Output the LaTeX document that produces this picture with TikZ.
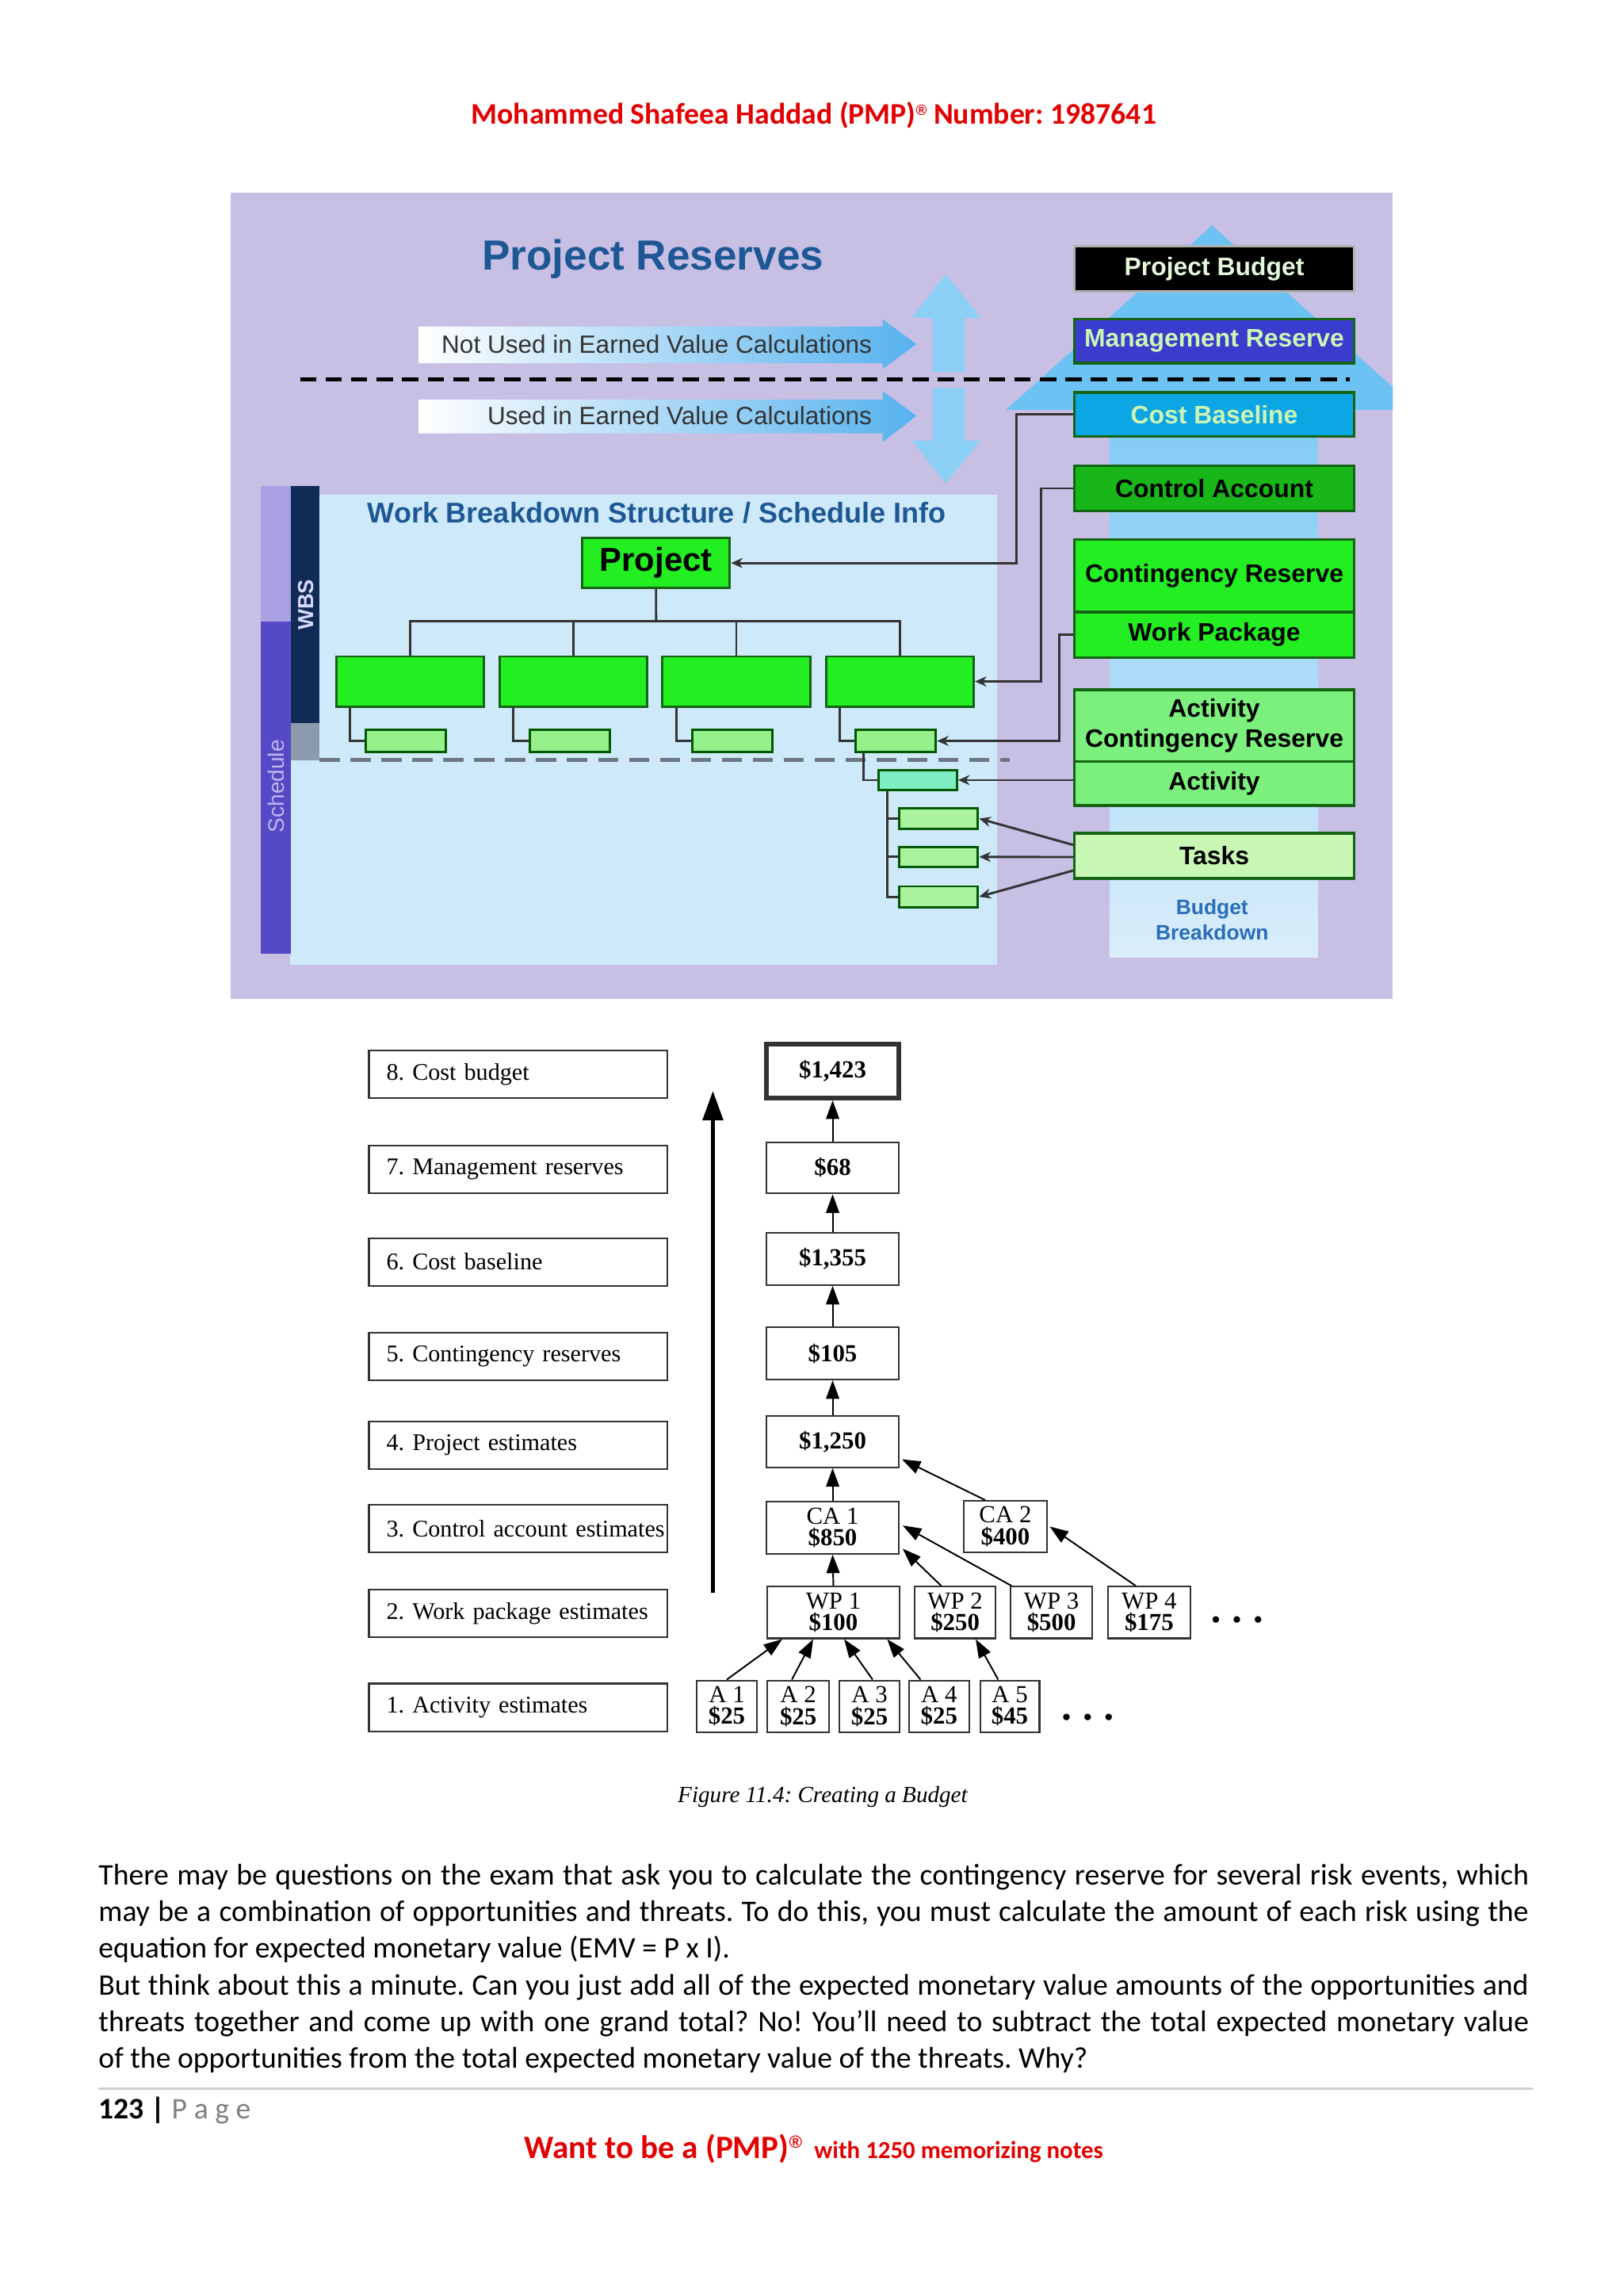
\documentclass[tikz,border=0pt]{standalone}
\usepackage{fontspec}
\setmainfont{Carlito}
\newfontfamily\arialf{Liberation Sans}
\newfontfamily\timesf{Liberation Serif}
\usetikzlibrary{arrows.meta,calc}
\frenchspacing
\def\un{0.18936mm}
\def\tw{185.0mm}
\newcommand\mybox[7][]{\node[#1,minimum width={(#5-#3)*\un},minimum height={(#6-#4)*\un},inner sep=0pt] (#2) at ({(#3+#5)/2},{(#4+#6)/2}) {#7};}
\newcommand\regmark[2]{\raisebox{#2}{\arialf\fontsize{#1}{#1}\selectfont ®}}
\definecolor{bgpurple}{RGB}{200,191,229}
\definecolor{panelblue}{RGB}{206,233,250}
\definecolor{triblue}{RGB}{108,194,242}
\definecolor{varrow}{RGB}{140,208,245}
\definecolor{colblue1}{RGB}{128,202,244}
\definecolor{colblue2}{RGB}{218,237,250}
\definecolor{arrowblue}{RGB}{86,178,238}
\definecolor{arrowmid}{RGB}{222,239,251}
\definecolor{titleblue}{RGB}{30,88,148}
\definecolor{mrblue}{RGB}{58,60,205}
\definecolor{cbblue}{RGB}{12,166,228}
\definecolor{cagreen}{RGB}{24,182,24}
\definecolor{brgreen}{RGB}{34,238,34}
\definecolor{lgreen}{RGB}{124,240,124}
\definecolor{pgreen}{RGB}{200,247,180}
\definecolor{boxedge}{RGB}{20,100,20}
\definecolor{ltext}{RGB}{205,245,180}
\definecolor{pbtext}{RGB}{228,248,220}
\definecolor{wbsnavy}{RGB}{16,44,86}
\definecolor{schedpurple}{RGB}{86,74,196}
\definecolor{lavbar}{RGB}{168,160,226}
\definecolor{schedtext}{RGB}{190,182,240}
\definecolor{graybar}{RGB}{140,154,174}
\definecolor{smallgreen}{RGB}{150,240,140}
\definecolor{actcyan}{RGB}{128,238,196}
\definecolor{taskgreen}{RGB}{170,242,160}
\definecolor{hdrred}{RGB}{226,0,0}
\definecolor{bbblue}{RGB}{40,110,185}
\definecolor{dashgray}{RGB}{110,120,132}
\definecolor{rulegray}{RGB}{208,208,214}
\definecolor{pggray}{RGB}{127,127,127}
\tikzset{
  rc/.style={draw=boxedge, line width=0.35mm, font=\arialf\bfseries\fontsize{9.3}{11}\selectfont},
  gbox/.style={draw=boxedge, line width=0.3mm, fill=brgreen},
  sbox/.style={draw=green!35!black, line width=0.3mm, fill=smallgreen},
  wire/.style={draw=black!80, line width=0.3mm},
  warrow/.style={wire, -{Stealth[length=1.5mm,width=1.3mm]}},
  lab/.style={draw=black!80, line width=0.22mm, fill=white, minimum height={32.5*\un}, inner xsep={12*\un}, inner ysep=0pt, text width={180*\un}, align=left, font=\timesf\fontsize{8.8}{10}\selectfont},
  vbox/.style={draw=black!80, line width=0.22mm, fill=white, inner sep=0pt, align=center, font=\timesf\fontsize{9}{8}\selectfont},
  barrow/.style={line width=0.2mm, -{Triangle[length=2.4mm,width=1.7mm]}},
  body/.style={font=\fontsize{11}{13.5}\selectfont, inner sep=0pt, anchor=base west},
  dotsn/.style={font=\timesf\fontsize{10}{10}\selectfont, inner sep=0pt}
}
\begin{document}
\begin{tikzpicture}[x=0.18936mm,y=-0.18936mm]
\fill[white] (0,0) rectangle (1109,1568);
\useasboundingbox (0,0) rectangle (1109,1568);

% header
\node[font=\bfseries\fontsize{11}{13}\selectfont, text=hdrred, anchor=base, inner sep=0pt] (hdr) at (556,84.9) {Mohammed Shafeea Haddad (PMP)\regmark{5.5}{3.4pt} Number: 1987641};

% ===== top figure =====
\fill[bgpurple] (157.5,131.5) rectangle (951.5,682);
\begin{scope}
\clip (157.5,131.5) rectangle (951.5,682);
\fill[triblue] (828,154) -- (969,280) -- (687,280) -- cycle;
\end{scope}
\shade[top color=colblue1, bottom color=colblue2] (758,280) rectangle (900,654);
\fill[panelblue] (198,338) rectangle (681,659);

\node[font=\arialf\bfseries\fontsize{15.5}{18}\selectfont, text=titleblue] (title) at (446,177) {Project Reserves};

% horizontal block arrows
\shade[left color=white, middle color=arrowmid, right color=arrowblue] (286,223) -- (603,223) -- (603,218) -- (626,235) -- (603,252) -- (603,248) -- (286,248) -- cycle;
\shade[left color=white, middle color=arrowmid, right color=arrowblue] (286,273) -- (603,273) -- (603,267) -- (626,284) -- (603,302) -- (603,296) -- (286,296) -- cycle;
\node[font=\arialf\fontsize{9.2}{11}\selectfont, text=black!80, anchor=east, inner sep=0pt] (nu) at (596,235) {Not Used in Earned Value Calculations};
\node[font=\arialf\fontsize{9.2}{11}\selectfont, text=black!80, anchor=east, inner sep=0pt] (us) at (596,284) {Used in Earned Value Calculations};

% vertical arrows
\fill[varrow] (646,187) -- (670,217) -- (659,217) -- (659,254) -- (637,254) -- (637,217) -- (623,217) -- cycle;
\fill[varrow] (637,265) -- (659,265) -- (659,301) -- (670,301) -- (646,330) -- (623,301) -- (637,301) -- cycle;

% dashed separator
\coordinate (ds1) at (205,259);
\coordinate (ds2) at (922,259);
\draw[line width=0.45mm, dash pattern=on 2.1mm off 1.2mm] (ds1) -- (ds2);

% right column
\mybox[rc, fill=black, text=pbtext, draw=white!70!black]{pb}{734}{168}{925}{199}{Project Budget}
\mybox[rc, fill=mrblue, text=ltext]{mr}{734}{218}{925}{248}{Management Reserve}
\mybox[rc, fill=cbblue, text=ltext]{cb}{734}{268}{925}{298}{Cost Baseline}
\mybox[rc, fill=cagreen]{ca}{734}{318}{925}{349}{Control Account}
\mybox[rc, fill=brgreen]{cr}{734}{368.5}{925}{418}{Contingency Reserve}
\mybox[rc, fill=brgreen]{wp}{734}{418}{925}{449}{Work Package}
\mybox[rc, fill=lgreen, align=center]{acr}{734}{471}{925}{520}{Activity\\Contingency Reserve}
\mybox[rc, fill=lgreen]{act}{734}{520}{925}{550}{Activity}
\mybox[rc, fill=pgreen]{tasks}{734}{569}{925}{600}{Tasks}
\node[font=\arialf\bfseries\fontsize{7.7}{9.2}\selectfont, text=bbblue, align=center] (bb) at (828,628) {Budget\\Breakdown};

% left bars
\fill[lavbar] (178.4,332) rectangle (198.9,424.4);
\fill[schedpurple] (178.4,424.4) rectangle (198.9,651.5);
\fill[wbsnavy] (198.9,332) rectangle (218.4,494);
\fill[graybar] (198.9,494) rectangle (218.4,519);
\node[rotate=90, font=\arialf\bfseries\fontsize{8}{9}\selectfont, text=white!85!blue] (wbslbl) at (209,413) {WBS};
\node[rotate=90, font=\arialf\fontsize{8.2}{9}\selectfont, text=schedtext] (schlbl) at (188.6,537) {Schedule};

\node[font=\arialf\bfseries\fontsize{10.5}{12}\selectfont, text=titleblue] (wbst) at (448.5,350) {Work Breakdown Structure / Schedule Info};

% WBS tree
\mybox[gbox, font=\arialf\bfseries\fontsize{12.2}{14}\selectfont]{proj}{397.7}{367.4}{498.6}{401.6}{Project}
\mybox[gbox]{g1}{229.6}{448.3}{330.6}{482.5}{}
\mybox[gbox]{g2}{341.3}{448.3}{442.3}{482.5}{}
\mybox[gbox]{g3}{452.5}{448.3}{553.5}{482.5}{}
\mybox[gbox]{g4}{564.2}{448.3}{665.2}{482.5}{}
\mybox[sbox]{s1}{250}{498.6}{304.6}{513.4}{}
\mybox[sbox]{s2}{361.8}{498.6}{416.4}{513.4}{}
\mybox[sbox]{s3}{473}{498.6}{527.6}{513.4}{}
\mybox[sbox]{s4}{584.7}{498.6}{639.3}{513.4}{}
\coordinate (bus) at (448.2,424.4);
\draw[wire] (proj.south) -- (bus);
\draw[wire] (g1.north) |- (bus);
\draw[wire] (g4.north) |- (bus);
\draw[wire] (g2.north) -- (g2.north |- bus);
\draw[wire] (g3.north) -- (g3.north |- bus);
\draw[wire] ($(g1.south west)+(10.3,0)$) |- (s1.west);
\draw[wire] ($(g2.south west)+(10.3,0)$) |- (s2.west);
\draw[wire] ($(g3.south west)+(10.3,0)$) |- (s3.west);
\draw[wire] ($(g4.south west)+(10.3,0)$) |- (s4.west);

\coordinate (gd1) at (218.4,519);
\coordinate (gd2) at (690,519);
\draw[line width=0.5mm, draw=dashgray, dash pattern=on 2.6mm off 1.4mm] (gd1) -- (gd2);

\mybox[draw=green!35!black, line width=0.3mm, fill=actcyan]{ab}{600}{525.9}{653.7}{539.6}{}
\draw[wire] ($(s4.south west)+(6.1,0)$) |- (ab.west);
\mybox[sbox, fill=taskgreen]{t1}{614.4}{552.2}{668.1}{565.9}{}
\mybox[sbox, fill=taskgreen]{t2}{614.4}{578.4}{668.1}{592}{}
\mybox[sbox, fill=taskgreen]{t3}{614.4}{605.3}{668.1}{619.5}{}
\coordinate (tv) at ($(ab.south west)+(6.7,0)$);
\draw[wire] (tv) |- (t1.west);
\draw[wire] (tv) |- (t2.west);
\draw[wire] (tv) |- (t3.west);

% connectors from right column
\draw[warrow] (cb.west) -| ($(proj.east)+(195.2,0)$) -- (proj.east);
\draw[warrow] (ca.west) -| ($(g4.east)+(45,0)$) -- (g4.east);
\draw[warrow] (wp.west) -| ($(s4.east)+(83.7,0)$) -- (s4.east);
\draw[warrow] (act.west |- ab.east) -- (ab.east);
\draw[warrow] ($(tasks.west)+(0,-7.5)$) -- (t1.east);
\draw[warrow] ($(tasks.west)+(0,0.8)$) -- (t2.east);
\draw[warrow] ($(tasks.west)+(0,10)$) -- (t3.east);

% ===== bottom figure =====
\node[lab] (l8) at (354,733.8) {\mbox{8. Cost budget}};
\node[lab] (l7) at (354,798.8) {\mbox{7. Management reserves}};
\node[lab] (l6) at (354,861.8) {\mbox{6. Cost baseline}};
\node[lab] (l5) at (354,926.3) {\mbox{5. Contingency reserves}};
\node[lab] (l4) at (354,987) {\mbox{4. Project estimates}};
\node[lab] (l3) at (354,1044) {\mbox{3. Control account estimates}};
\node[lab] (l2) at (354,1101.8) {\mbox{2. Work package estimates}};
\node[lab] (l1) at (354,1166) {\mbox{1. Activity estimates}};

\coordinate (la1) at (487,1088);
\coordinate (la2) at (487,745);
\draw[line width=0.5mm, -{Triangle[length=3.8mm,width=2.6mm]}] (la1) -- (la2);

\node[vbox, line width=0.6mm, minimum width={90.5*\un}, minimum height={37*\un}] (v1423) at (568.8,731.4) {\textbf{\$1,423}};
\node[vbox, minimum width={90.5*\un}, minimum height={35*\un}] (v68) at (568.8,797.5) {\textbf{\$68}};
\node[vbox, minimum width={90.5*\un}, minimum height={35.5*\un}] (v1355) at (568.8,859.8) {\textbf{\$1,355}};
\node[vbox, minimum width={90.5*\un}, minimum height={35.5*\un}] (v105) at (568.8,924.3) {\textbf{\$105}};
\node[vbox, minimum width={90.5*\un}, minimum height={35*\un}] (v1250) at (568.8,984.5) {\textbf{\$1,250}};
\node[vbox, minimum width={90.5*\un}, minimum height={35.5*\un}] (ca1) at (568.8,1043.3) {CA 1\\\textbf{\$850}};
\node[vbox, minimum width={56.4*\un}, minimum height={35*\un}] (ca2) at (686.8,1042.5) {CA 2\\\textbf{\$400}};
\node[vbox, minimum width={90.7*\un}, minimum height={35.3*\un}] (wp1) at (569.3,1101.2) {WP 1\\\textbf{\$100}};
\node[vbox, minimum width={55*\un}, minimum height={35.3*\un}] (wp2) at (652.5,1101.2) {WP 2\\\textbf{\$250}};
\node[vbox, minimum width={55.5*\un}, minimum height={35.3*\un}] (wp3) at (718.3,1101.2) {WP 3\\\textbf{\$500}};
\node[vbox, minimum width={56*\un}, minimum height={35.3*\un}] (wp4) at (785,1101.2) {WP 4\\\textbf{\$175}};
\node[vbox, minimum width={41*\un}, minimum height={35.4*\un}] (a1) at (496.5,1165.3) {A 1\\\textbf{\$25}};
\node[vbox, minimum width={42.5*\un}, minimum height={35.4*\un}] (a2) at (545.3,1165.3) {A 2\\\textbf{\$25}};
\node[vbox, minimum width={41*\un}, minimum height={35.4*\un}] (a3) at (594,1165.3) {A 3\\\textbf{\$25}};
\node[vbox, minimum width={41*\un}, minimum height={35.4*\un}] (a4) at (641.5,1165.3) {A 4\\\textbf{\$25}};
\node[vbox, minimum width={40.5*\un}, minimum height={35.4*\un}] (a5) at (689.8,1165.3) {A 5\\\textbf{\$45}};
\node[dotsn] (dots1) at (845,1108) {•\hspace{1.5mm}•\hspace{1.5mm}•};
\node[dotsn] (dots2) at (743,1175) {•\hspace{1.5mm}•\hspace{1.5mm}•};

\draw[barrow] (v68.north) -- (v1423.south);
\draw[barrow] (v1355.north) -- (v68.south);
\draw[barrow] (v105.north) -- (v1355.south);
\draw[barrow] (v1250.north) -- (v105.south);
\draw[barrow] (ca1.north) -- (v1250.south);
\draw[barrow] (wp1.north) -- (ca1.south);
\draw[barrow] ($(ca2.north west)!0.26!(ca2.north east)$) -- ($(v1250.south east)+(1.5,-6)$);
\draw[barrow] ($(wp2.north west)!0.33!(wp2.north east)$) -- ($(ca1.south east)+(2,-4)$);
\draw[barrow] ($(wp3.north west)+(1,0)$) -- ($(ca1.east)+(2,-1.5)$);
\draw[barrow] ($(wp4.north west)!0.34!(wp4.north east)$) -- ($(ca2.east)+(1.5,0)$);
\draw[barrow] (a1.north) -- ($(wp1.south west)!0.12!(wp1.south east)$);
\draw[barrow] ($(a2.north west)!0.4!(a2.north east)$) -- ($(wp1.south west)!0.35!(wp1.south east)$);
\draw[barrow] ($(a3.north west)!0.55!(a3.north east)$) -- ($(wp1.south west)!0.58!(wp1.south east)$);
\draw[barrow] ($(a4.north west)!0.2!(a4.north east)$) -- ($(wp1.south west)!0.9!(wp1.south east)$);
\draw[barrow] ($(a5.north west)!0.31!(a5.north east)$) -- ($(wp2.south west)!0.75!(wp2.south east)$);

\node[font=\timesf\itshape\fontsize{8.5}{10}\selectfont, anchor=base, inner sep=0pt] (cap) at (562,1231) {Figure 11.4: Creating a Budget};

% ===== body text =====
\node[body] (bl1) at (67,1287) {\makebox[\tw][s]{There may be questions on the exam that ask you to calculate the contingency reserve for several risk events, which}};
\node[body] (bl2) at (67,1312.1) {\makebox[\tw][s]{may be a combination of opportunities and threats. To do this, you must calculate the amount of each risk using the}};
\node[body] (bl3) at (67,1337.2) {equation for expected monetary value (EMV = P x I).};
\node[body] (bl4) at (67,1362.3) {\makebox[\tw][s]{But think about this a minute. Can you just add all of the expected monetary value amounts of the opportunities and}};
\node[body] (bl5) at (67,1387.4) {\makebox[\tw][s]{threats together and come up with one grand total? No! You'll need to subtract the total expected monetary value}};
\node[body] (bl6) at (67,1412.5) {of the opportunities from the total expected monetary value of the threats. Why?};

\coordinate (r1) at (67,1426.6);
\coordinate (r2) at (1047,1426.6);
\draw[line width=0.3mm, draw=rulegray] (r1) -- (r2);
\node[body] (pg) at (67,1447) {\textbf{123 |} \textcolor{pggray}{P a g e}};

\node[font=\bfseries, text=hdrred, anchor=base, inner sep=0pt] (ft) at (556,1473.8) {\fontsize{12}{14}\selectfont Want to be a (PMP)\regmark{6.5}{3.8pt}\hspace{0.15em} \fontsize{9}{11}\selectfont with 1250 memorizing notes};
\end{tikzpicture}
\end{document}
